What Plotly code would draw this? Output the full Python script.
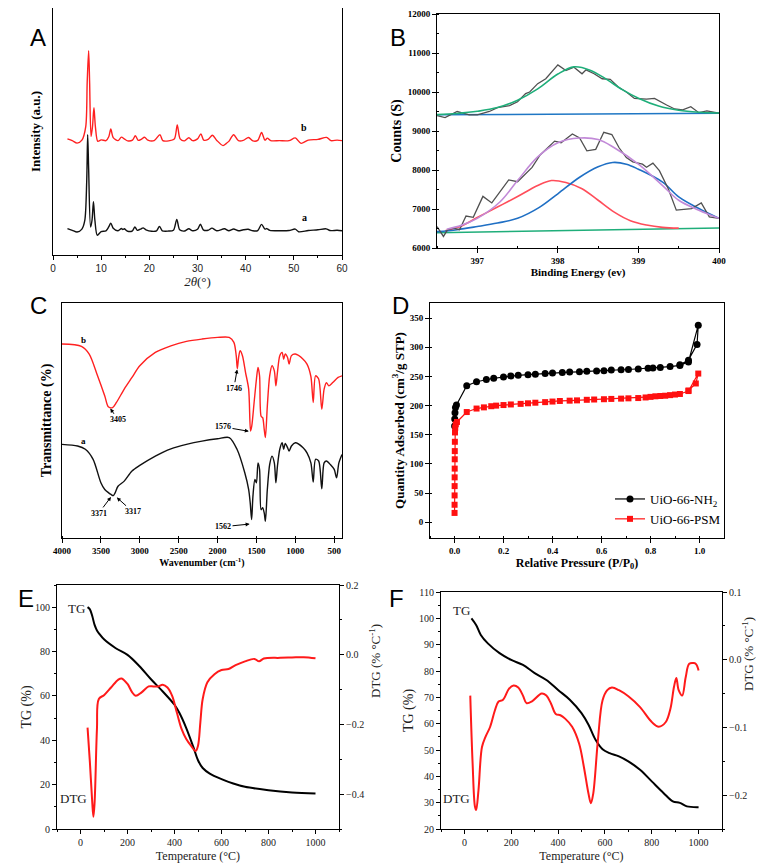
import plotly.graph_objects as go

# page body adds an 8px margin, so the figure is drawn smaller and offset
OFF = 8
W, H = 764 - OFF, 867 - OFF
SERIF = "Liberation Serif"
SANS = "Liberation Sans"

# ---- A: XRD ----
xrd_a_x = [3, 4, 5, 6, 6.6, 7.0, 7.2, 7.4, 7.8, 8.1,
           8.4, 8.7, 9.2, 10, 11, 11.6, 12.0, 12.5, 13.5, 14.2,
           14.5, 14.8, 15.5, 16.5, 17.0, 17.5, 18.3, 18.7, 19.3, 20.5,
           21.5, 22.1, 22.7, 24, 25.0, 25.7, 26.3, 27.3, 28.2, 29,
           30, 30.6, 31.2, 32.2, 33.0, 34, 35.6, 36.5, 37.5, 38.5,
           39.5, 40.5, 41.5, 42.5, 43.3, 44.0, 44.4, 45, 47, 49,
           50.3, 51, 53, 55, 56.7, 57.5, 59, 60]
xrd_a_y = [10.7, 10, 9.3, 10.5, 14, 30, 48.7, 35, 11.3, 14,
           21.6, 14, 8, 9.5, 9.8, 11.5, 12.9, 10.8, 9.8, 10.7,
           10.3, 10.6, 9.6, 9.8, 11.4, 10, 10.6, 11, 10.2, 9.6,
           9.8, 11.6, 9.8, 9.7, 10, 14.4, 10.2, 9.7, 10.6, 9.8,
           10.4, 12.5, 10.2, 10, 10.9, 9.8, 10.6, 9.8, 10.5, 9.8,
           10.2, 10.4, 9.8, 9.9, 12.4, 10.5, 10.7, 10, 9.8, 9.9,
           10.5, 9.4, 9.9, 10.2, 10.6, 9.9, 10, 9.8]
xrd_b_x = [3, 4, 5, 6, 6.8, 7.1, 7.4, 7.6, 7.9, 8.2,
           8.5, 8.8, 9.3, 10, 11, 11.6, 12.0, 12.5, 13.5, 14.2,
           14.8, 15.5, 16.5, 17.1, 17.7, 18.3, 19.0, 19.7, 21, 22.2,
           22.8, 24, 25.2, 25.8, 26.4, 27.3, 28.2, 29, 30, 30.7,
           31.3, 32.2, 33.1, 34, 35.3, 36, 36.5, 37.5, 38.5, 39.5,
           40.6, 41.5, 42.5, 43.3, 44.0, 44.5, 45.2, 47, 49, 50.3,
           51.5, 53, 55, 56.8, 57.7, 59, 60]
xrd_b_y = [47, 46.3, 45.3, 46.5, 52, 70, 82.7, 70, 48, 52,
           59.6, 52, 46, 46.6, 46.3, 48, 51, 47.5, 46.3, 47.7,
           47, 46.2, 46.5, 48.3, 46.4, 46.8, 47.7, 46.5, 46.3, 48.7,
           46.3, 46.2, 47, 52.7, 47, 46.2, 47.5, 46.3, 47, 49,
           46.5, 46.8, 48.5, 46.4, 44.3, 45.2, 46, 48.7, 46.3, 46.4,
           47.6, 46.2, 46.4, 49.6, 46.5, 47.3, 46.3, 46.3, 46.3, 47.4,
           45.2, 46.5, 46.8, 47.6, 46.3, 46.5, 46.3]

# ---- B: XPS N1s ----
xps_up_x = [396.5, 396.6, 396.75, 396.9, 397.0, 397.15, 397.25, 397.4, 397.5, 397.6,
            397.65, 397.75, 397.85, 397.95, 398.0, 398.1, 398.2, 398.3, 398.35, 398.45,
            398.55, 398.65, 398.75, 398.85, 398.95, 399.1, 399.2, 399.35, 399.45, 399.55,
            399.65, 399.75, 399.85, 400.0]
xps_up_y = [9397, 9346, 9500, 9413, 9413, 9500, 9600, 9650, 9750, 9960,
            10000, 10214, 10340, 10593, 10694, 10550, 10635, 10467, 10568, 10467,
            10340, 10323, 10130, 10000, 9835, 9818, 9835, 9667, 9565, 9540,
            9625, 9470, 9515, 9455]
fit_up_x = [396.5, 396.75, 397.0, 397.25, 397.5, 397.75, 398.0, 398.2, 398.4, 398.6,
            398.8, 399.0, 399.25, 399.5, 399.75, 400.0]
fit_up_y = [9420, 9450, 9505, 9600, 9790, 10080, 10460, 10645, 10560, 10330,
            10060, 9840, 9640, 9530, 9480, 9460]
base_up_x = [396.5, 400.0]
base_up_y = [9415, 9458]

xps_lo_x = [396.5, 396.55, 396.58, 396.63, 396.7, 396.78, 396.86, 396.95, 397.07, 397.18,
            397.39, 397.5, 397.68, 397.78, 397.96, 398.04, 398.18, 398.27, 398.36, 398.47,
            398.57, 398.67, 398.76, 398.85, 398.93, 399.05, 399.1, 399.18, 399.26, 399.37,
            399.47, 399.66, 399.78, 399.88, 400.0]
xps_lo_y = [6550, 6380, 6296, 6465, 6507, 6470, 6820, 6786, 7324, 7155,
            7745, 7700, 8065, 8386, 8740, 8700, 8925, 8820, 8490, 8530,
            8967, 8910, 8570, 8318, 8210, 8150, 8070, 8175, 7982, 7520,
            6970, 7012, 7155, 6800, 6760]
env_lo_x = [396.62, 396.8, 397.0, 397.28, 397.5, 397.75, 398.0, 398.27, 398.5, 398.7,
            399.0, 399.3, 399.5, 399.75, 400.0]
env_lo_y = [6480, 6580, 6760, 7180, 7730, 8335, 8700, 8820, 8780, 8570,
            8150, 7600, 7224, 6970, 6760]
red_lo_x = [396.6, 396.8, 397.0, 397.25, 397.5, 397.75, 397.92, 398.1, 398.3, 398.5,
            398.7, 398.9, 399.1, 399.3, 399.5]
red_lo_y = [6440, 6560, 6780, 7050, 7320, 7600, 7730, 7680, 7520, 7224,
            6920, 6700, 6590, 6530, 6510]
blue_lo_x = [396.5, 396.75, 397.0, 397.25, 397.5, 397.77, 398.0, 398.27, 398.5, 398.68,
             398.85, 399.0, 399.3, 399.5, 399.75, 400.0]
blue_lo_y = [6420, 6470, 6550, 6640, 6760, 7040, 7390, 7813, 8082, 8192,
             8150, 8020, 7690, 7310, 7012, 6760]
base_lo_x = [396.5, 400.0]
base_lo_y = [6390, 6510]

# ---- C: FTIR ----
wn_b = [4000, 3750, 3650, 3550, 3450, 3405, 3350, 3300, 3200, 3100,
        3000, 2800, 2600, 2400, 2200, 2000, 1850, 1790, 1760, 1746,
        1730, 1710, 1680, 1640, 1600, 1576, 1560, 1530, 1500, 1480,
        1460, 1440, 1420, 1400, 1385, 1360, 1330, 1300, 1270, 1250,
        1230, 1200, 1170, 1150, 1130, 1100, 1080, 1050, 1000, 900,
        850, 800, 770, 740, 700, 660, 630, 600, 570, 520,
        450, 400]
tr_b = [82.9, 81.9, 78.6, 70, 60.7, 56.1, 55.7, 57.9, 63.6, 68.6,
        73.6, 79.3, 82.1, 84, 85, 85.7, 85.7, 83.6, 77.9, 72.4,
        77, 80, 77.9, 70.7, 63.6, 45.7, 47.9, 57.9, 67.9, 72.9,
        69.3, 52, 51.4, 46.4, 42.9, 56.4, 69.3, 73.6, 71.4, 65,
        70.7, 77.9, 79.3, 76.4, 78.6, 77.1, 74.3, 77.9, 78.6, 76.4,
        74.3, 69, 57.9, 69.3, 67.9, 55, 63.6, 66.4, 65, 66.4,
        68.6, 69.3]
wn_a = [4000, 3800, 3700, 3600, 3500, 3450, 3400, 3370, 3340, 3317,
        3280, 3200, 3100, 3000, 2800, 2600, 2400, 2200, 2000, 1850,
        1750, 1650, 1600, 1580, 1562, 1545, 1520, 1500, 1480, 1460,
        1440, 1420, 1400, 1385, 1360, 1330, 1300, 1270, 1250, 1230,
        1200, 1170, 1150, 1130, 1100, 1080, 1050, 1000, 900, 850,
        800, 770, 740, 700, 660, 630, 600, 550, 500, 470,
        440, 400]
tr_a = [40, 39.3, 37.9, 33.6, 23.6, 20.7, 19.3, 18.6, 18.1, 19.3,
        22.1, 24.3, 28.6, 31, 35, 38.1, 40, 41.4, 42.4, 42.9,
        37.9, 27.9, 20.7, 15, 7.9, 17.9, 25, 23.6, 32.1, 29.3,
        12.1, 12.9, 10.7, 7.1, 20.7, 31.4, 35, 32.1, 23.6, 30.7,
        37.9, 40.7, 37.9, 40.4, 38.6, 37.1, 39.3, 40.7, 38.6, 36.4,
        32.1, 23.9, 33.6, 32.9, 21, 32.1, 32.9, 31.4, 29.3, 25.7,
        32.1, 35.7]

# ---- D: N2 isotherms ----
p_nh2 = [0.0005, 0.001, 0.002, 0.004, 0.008, 0.05, 0.09, 0.13, 0.16, 0.2,
         0.23, 0.26, 0.3, 0.33, 0.37, 0.4, 0.44, 0.47, 0.51, 0.54,
         0.58, 0.61, 0.64, 0.68, 0.71, 0.75, 0.79, 0.81, 0.84, 0.88,
         0.92, 0.955, 0.995, 0.99, 0.955, 0.92]
q_nh2 = [165, 177, 188, 197, 201, 234, 241, 245, 247, 249,
         251, 252, 253, 254, 255, 256, 257, 257.5, 258, 259,
         259.5, 260, 261, 261.5, 262, 263, 264, 264.5, 265.5, 267,
         269, 275, 338, 305, 278, 270]
p_psm = [0.0002, 0.0003, 0.0004, 0.0005, 0.0006, 0.0008, 0.001, 0.0012, 0.0015, 0.002,
         0.003, 0.005, 0.01, 0.05, 0.09, 0.12, 0.15, 0.17, 0.2, 0.23,
         0.27, 0.3, 0.33, 0.37, 0.4, 0.43, 0.47, 0.5, 0.54, 0.57,
         0.61, 0.64, 0.68, 0.71, 0.75, 0.78, 0.8, 0.82, 0.84, 0.86,
         0.88, 0.9, 0.92, 0.955, 0.995, 0.985, 0.955]
q_psm = [16, 30, 46, 62, 77, 92, 108, 122, 138, 154,
         162, 168, 172, 189, 195, 197, 199, 200, 201, 202,
         203, 204, 205, 206, 207, 208, 208.5, 209, 210, 210.5,
         211, 211.5, 212, 212.5, 213, 214, 215, 216, 216.5, 217,
         218, 219, 220, 225, 255, 238, 226]

# ---- E: TG/DTG of UiO-66-NH2 ----
t_e_tg = [30, 40, 50, 60, 70, 80, 100, 150, 200, 250,
          300, 350, 400, 420, 450, 480, 500, 520, 550, 600,
          650, 700, 800, 900, 1000]
tg_e = [100, 99, 96, 92, 89.5, 88, 85.5, 81.5, 78.5, 73.5,
        67.5, 62, 56, 52.5, 45.5, 37, 31, 27.5, 25, 22.5,
        20.5, 19, 17.5, 16.5, 16]
t_e_dtg = [30, 40, 50, 55, 60, 70, 78, 100, 130, 160,
           175, 200, 220, 235, 260, 290, 310, 330, 350, 370,
           390, 410, 430, 450, 470, 490, 500, 510, 520, 540,
           570, 600, 630, 660, 700, 740, 760, 780, 850, 900,
           950, 1000]
dtg_e = [-0.209, -0.309, -0.424, -0.465, -0.424, -0.213, -0.127, -0.116, -0.094, -0.072,
         -0.068, -0.084, -0.108, -0.118, -0.108, -0.091, -0.091, -0.091, -0.086, -0.094,
         -0.118, -0.166, -0.213, -0.242, -0.261, -0.276, -0.261, -0.194, -0.127, -0.079,
         -0.056, -0.044, -0.041, -0.030, -0.019, -0.012, -0.019, -0.011, -0.009, -0.008,
         -0.007, -0.010]

# ---- F: TG/DTG of UiO-66-PSM ----
t_f_tg = [30, 50, 70, 100, 150, 200, 250, 300, 350, 400,
          450, 500, 530, 560, 590, 620, 660, 700, 750, 800,
          850, 890, 920, 950, 1000]
tg_f = [100, 97.5, 93.7, 90.5, 86.8, 84.2, 82.3, 79.2, 76.6, 72.8,
        69.1, 64, 59.6, 53.9, 50.3, 48.8, 47.6, 45.7, 42.5, 38.1,
        33.7, 30.5, 29.9, 28.6, 28.3]
t_f_dtg = [25, 35, 45, 50, 60, 75, 90, 110, 130, 145,
           165, 190, 210, 230, 250, 265, 290, 330, 350, 370,
           390, 410, 430, 460, 490, 510, 530, 540, 550, 570,
           590, 610, 630, 660, 700, 750, 800, 830, 860, 880,
           895, 905, 915, 930, 945, 960, 980, 990, 1000]
dtg_f = [-0.053, -0.153, -0.217, -0.222, -0.193, -0.129, -0.114, -0.099, -0.075, -0.062,
         -0.059, -0.043, -0.038, -0.041, -0.053, -0.064, -0.061, -0.050, -0.053, -0.065,
         -0.080, -0.082, -0.087, -0.099, -0.124, -0.158, -0.198, -0.212, -0.198, -0.119,
         -0.060, -0.045, -0.041, -0.045, -0.054, -0.070, -0.092, -0.099, -0.092, -0.072,
         -0.040, -0.027, -0.045, -0.053, -0.026, -0.006, -0.005, -0.007, -0.016]


# pixel positions below are measured in the 764x867 reference picture
def px_x(x):
    return (x - OFF) / W


def px_y(y):
    return 1 - (y - OFF) / H


def dom_x(left, right):
    return [px_x(left), px_x(right)]


def dom_y(top, bottom):
    return [px_y(bottom), px_y(top)]


def line(x, y, xa, ya, color, width=1.5, shape="linear", smooth=1.0):
    return go.Scatter(x=x, y=y, xaxis=xa, yaxis=ya, mode="lines", showlegend=False,
                      line=dict(color=color, width=width, shape=shape, smoothing=smooth))


fig = go.Figure()

# A
fig.add_trace(line(xrd_b_x, xrd_b_y, "x", "y", "#ff2020", 1.4, "spline", 0.8))
fig.add_trace(line(xrd_a_x, xrd_a_y, "x", "y", "#111111", 1.4, "spline", 0.8))

# B
fig.add_trace(line(base_up_x, base_up_y, "x2", "y2", "#1f77c4", 1.5))
fig.add_trace(line(xps_up_x, xps_up_y, "x2", "y2", "#505050", 1.3))
fig.add_trace(line(fit_up_x, fit_up_y, "x2", "y2", "#1fae7a", 1.6, "spline"))
fig.add_trace(line(base_lo_x, base_lo_y, "x2", "y2", "#1fae7a", 1.5))
fig.add_trace(line(red_lo_x, red_lo_y, "x2", "y2", "#ff4d5a", 1.6, "spline"))
fig.add_trace(line(blue_lo_x, blue_lo_y, "x2", "y2", "#1f6fc4", 1.6, "spline"))
fig.add_trace(line(xps_lo_x, xps_lo_y, "x2", "y2", "#505050", 1.3))
fig.add_trace(line(env_lo_x, env_lo_y, "x2", "y2", "#c28ad8", 1.6, "spline"))

# C
fig.add_trace(line(wn_b, tr_b, "x3", "y3", "#ff2020", 1.4, "spline", 0.8))
fig.add_trace(line(wn_a, tr_a, "x3", "y3", "#111111", 1.4, "spline", 0.8))

# D
fig.add_trace(go.Scatter(x=p_nh2, y=q_nh2, xaxis="x4", yaxis="y4", mode="lines+markers",
                         name="UiO-66-NH<sub>2</sub>",
                         line=dict(color="black", width=1.2),
                         marker=dict(symbol="circle", size=7, color="black")))
fig.add_trace(go.Scatter(x=p_psm, y=q_psm, xaxis="x4", yaxis="y4", mode="lines+markers",
                         name="UiO-66-PSM",
                         line=dict(color="#ff1010", width=1.2),
                         marker=dict(symbol="square", size=6, color="#ff1010")))

# E
fig.add_trace(line(t_e_tg, tg_e, "x5", "y5", "black", 2.0, "spline"))
fig.add_trace(line(t_e_dtg, dtg_e, "x5", "y7", "#ff1a1a", 2.0, "spline"))

# F
fig.add_trace(line(t_f_tg, tg_f, "x6", "y6", "black", 2.0, "spline"))
fig.add_trace(line(t_f_dtg, dtg_f, "x6", "y8", "#ff1a1a", 2.0, "spline"))


def ax(domain, rng, anchor, dtick=None, title="", tfont=None, tickfont=None,
       showticklabels=True, minor=True, mirror=True, minor_ticks="inside", standoff=4, **kw):
    d = dict(range=rng, anchor=anchor, showline=True, linecolor="black", automargin=False,
             linewidth=1, mirror=mirror, ticks="outside", ticklen=4, tickcolor="black",
             showgrid=False, zeroline=False, showticklabels=showticklabels,
             ticklabeloverflow="allow",
             tickfont=tickfont or dict(family=SERIF, size=9, color="black", weight="bold"),
             title=dict(text=title, font=tfont or dict(family=SERIF, size=11, color="black",
                                                        weight="bold"), standoff=standoff))
    if domain is not None:
        d["domain"] = domain
    if dtick is not None:
        d["dtick"] = dtick
    if minor:
        d["minor"] = dict(ticks=minor_ticks, ticklen=2, tickcolor="black", nticks=2)
    d.update(kw)
    return d


def bold(size):
    return dict(family=SERIF, size=size, color="black", weight="bold")


sans_tick = dict(family=SANS, size=10, color="#222222")
reg_tick = dict(family=SERIF, size=10, color="#222222")
reg_title = dict(family=SERIF, size=12, color="#222222")
vert_title = dict(family=SERIF, size=14, color="#222222")

fig.update_layout(
    width=W, height=H, margin=dict(l=0, r=0, t=0, b=0),
    paper_bgcolor="white", plot_bgcolor="white",
    # A
    xaxis=ax(dom_x(53, 342), [0, 60], "y", 10, "<i>2θ</i>(°)",
             tfont=dict(family=SERIF, size=13, color="#222222"), tickfont=sans_tick,
             minor_ticks="outside", standoff=2),
    yaxis=ax(dom_y(8, 255), [0, 100], "x", title="Intensity (a.u.)", showticklabels=False,
             ticks="", minor=False, tfont=bold(13), standoff=8),
    # B
    xaxis2=ax(dom_x(437, 719), [396.5, 400], "y2", 1, "Binding Energy (ev)",
              tfont=bold(11), standoff=3),
    yaxis2=ax(dom_y(14, 248), [6000, 12000], "x2", 1000, "Counts (S)", tickformat="d",
              tfont=bold(14), standoff=2),
    # C
    xaxis3=ax(dom_x(62, 342), [4000, 400], "y3", 500, "Wavenumber (cm<sup>-1</sup>)",
              tfont=bold(10), standoff=3),
    yaxis3=ax(dom_y(303, 538), [0, 100.4], "x3", title="Transmittance (%)",
              showticklabels=False, ticks="", minor=False, tfont=bold(14), standoff=6),
    # D
    xaxis4=ax(dom_x(430, 724), [-0.1, 1.1], "y4", 0.2, "Relative Pressure (P/P<sub>0</sub>)",
              tickformat=".1f", tfont=bold(12), standoff=2),
    yaxis4=ax(dom_y(303, 538), [-27, 376], "x4", 50, "Quantity Adsorbed (cm<sup>3</sup>/g STP)",
              tfont=bold(13), standoff=2),
    # E
    xaxis5=ax(dom_x(57, 339), [-100, 1100], "y5", 200, "Temperature (°C)",
              tfont=reg_title, tickfont=reg_tick, minor_ticks="outside", standoff=4),
    yaxis5=ax(dom_y(585, 829), [0, 110], "x5", 20, "TG (%)", tfont=vert_title,
              tickfont=reg_tick, mirror=False, minor_ticks="outside", standoff=0),
    yaxis7=ax(None, [-0.5, 0.2], "x5", 0.2, "", tickfont=reg_tick, overlaying="y5",
              side="right", mirror=False, tickformat=".1f", minor_ticks="outside"),
    # F
    xaxis6=ax(dom_x(441, 722), [-100, 1100], "y6", 200, "Temperature (°C)",
              tfont=reg_title, tickfont=reg_tick, minor_ticks="outside", standoff=4),
    yaxis6=ax(dom_y(592, 829), [20, 110], "x6", 10, "TG (%)", tfont=vert_title,
              tickfont=reg_tick, mirror=False, minor_ticks="outside", standoff=2),
    yaxis8=ax(None, [-0.25, 0.1], "x6", 0.1, "", tickfont=reg_tick, overlaying="y6",
              side="right", mirror=False, tickformat=".1f", minor_ticks="outside"),
    legend=dict(x=px_x(610), y=px_y(484), xanchor="left", yanchor="top",
                bgcolor="rgba(0,0,0,0)", font=dict(family=SERIF, size=13, color="black"),
                tracegroupgap=2),
)

ann = []
for txt, x, y in [("A", 28, 22), ("B", 398, 22), ("C", 28, 305), ("D", 400, 305),
                  ("E", 16, 614), ("F", 396, 614)]:
    ann.append(dict(text=txt, x=px_x(x), y=px_y(y), xref="paper", yref="paper",
                    showarrow=False, font=dict(family=SANS, size=24, color="black")))

# right-hand DTG axis titles
for x, yc in [(375, 700), (758, 693)]:
    ann.append(dict(text="DTG (% °C<sup>-1</sup>)", x=px_x(x), y=px_y(yc),
                    xref="paper", yref="paper", showarrow=False, textangle=-90,
                    font=dict(family=SERIF, size=13, color="#222222")))

lab = bold(10)
ann += [
    dict(text="b", x=52.2, y=51.6, xref="x", yref="y", showarrow=False, font=lab),
    dict(text="a", x=52.2, y=15.3, xref="x", yref="y", showarrow=False, font=lab),
    dict(text="b", x=3730, y=84.5, xref="x3", yref="y3", showarrow=False, font=bold(9)),
    dict(text="a", x=3730, y=41.5, xref="x3", yref="y3", showarrow=False, font=bold(9)),
]
arrows = [("1746", 1746, 72.4, 1790, 64), ("3405", 3386, 55.7, 3280, 50.5),
          ("1576", 1585, 45.5, 1930, 47.5), ("3371", 3362, 17.9, 3530, 10.5),
          ("3317", 3305, 17.6, 3090, 11.2), ("1562", 1575, 6.0, 1930, 4.8)]
for txt, x, y, tx, ty in arrows:
    ann.append(dict(text=txt, x=x, y=y, ax=tx, ay=ty, xref="x3", yref="y3",
                    axref="x3", ayref="y3", showarrow=True, arrowhead=2, arrowsize=0.8,
                    arrowwidth=1, arrowcolor="black", standoff=1, font=bold(8)))

tgf = dict(family=SERIF, size=13, color="#222222")
ann += [
    dict(text="TG", x=-15, y=99.5, xref="x5", yref="y5", showarrow=False, font=tgf),
    dict(text="DTG", x=-28, y=13.8, xref="x5", yref="y5", showarrow=False, font=tgf),
    dict(text="TG", x=-12, y=103, xref="x6", yref="y6", showarrow=False, font=tgf),
    dict(text="DTG", x=-35, y=31.5, xref="x6", yref="y6", showarrow=False, font=tgf),
]
fig.update_layout(annotations=ann)

fig.write_html("out.html")
